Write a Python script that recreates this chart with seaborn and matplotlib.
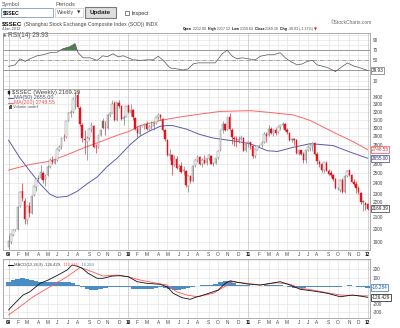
import numpy as np
import pandas as pd
import matplotlib
matplotlib.use("Agg")
import matplotlib.pyplot as plt
import matplotlib.transforms as mtransforms
from matplotlib.patches import Rectangle
from matplotlib.ticker import NullLocator
import seaborn as sns

# ------------------------------------------------------------------ data
first_week = "2009-01-05"
opens = [1860, 1900, 1950, 1991, 1995, 2190, 2330, 2240, 2070, 2190, 2130, 2290, 2370, 2450, 2450, 2500,
         2440, 2480, 2560, 2630, 2610, 2640, 2750, 2780, 2880, 2890, 3090, 3190, 3200, 3380, 3420, 3250,
         3040, 2870, 2840, 2880, 2990, 3020, 2780, 2780, 2910, 3080, 3000, 3000, 3160, 3190, 3320, 3100,
         3320, 3270, 3110, 3140, 3289, 3190, 3220, 3120, 2990, 2930, 3018, 3020, 3050, 2990, 3010, 3020,
         3060, 3130, 3160, 3110, 2970, 2860, 2680, 2690, 2580, 2650, 2550, 2570, 2520, 2520, 2380, 2470,
         2420, 2580, 2640, 2670, 2600, 2640, 2610, 2660, 2680, 2600, 2610, 2660, 2740, 2980, 3050, 2980,
         3140, 2980, 2880, 2870, 2850, 2870, 2880, 2740, 2820, 2830, 2790, 2680, 2750, 2790, 2800, 2830,
         2930, 2910, 2990, 2930, 2980, 2950, 3010, 3030, 3050, 2975, 2940, 2860, 2870, 2860, 2700, 2740,
         2700, 2640, 2740, 2770, 2790, 2820, 2700, 2620, 2590, 2530, 2610, 2520, 2500, 2480, 2440, 2360,
         2340, 2430, 2320, 2470, 2530, 2480, 2410, 2390, 2360, 2310, 2240, 2220, 2212]
highs = [1950, 1960, 2000, 1995, 2190, 2330, 2402, 2260, 2200, 2230, 2290, 2380, 2450, 2480, 2580, 2520,
         2490, 2580, 2660, 2680, 2650, 2760, 2800, 2890, 2930, 3090, 3200, 3220, 3400, 3460, 3478, 3270,
         3060, 2980, 2900, 3000, 3070, 3030, 2810, 2920, 2990, 3120, 3080, 3170, 3200, 3361, 3340, 3330,
         3360, 3290, 3160, 3280, 3295, 3306, 3240, 3130, 3020, 3030, 3025, 3060, 3080, 3050, 3080, 3070,
         3140, 3180, 3170, 3120, 2990, 2870, 2760, 2700, 2690, 2680, 2600, 2620, 2570, 2530, 2480, 2480,
         2580, 2650, 2690, 2680, 2660, 2690, 2660, 2700, 2690, 2620, 2660, 2740, 2980, 3080, 3060, 3140,
         3186, 3000, 2900, 2900, 2900, 2920, 2890, 2820, 2850, 2840, 2800, 2760, 2800, 2800, 2850, 2950,
         2950, 3040, 3010, 2990, 3000, 3010, 3040, 3067, 3055, 3000, 2950, 2880, 2880, 2870, 2750, 2750,
         2720, 2750, 2790, 2810, 2830, 2830, 2720, 2640, 2610, 2620, 2630, 2540, 2530, 2490, 2450, 2365,
         2440, 2450, 2480, 2536, 2535, 2490, 2440, 2420, 2380, 2320, 2250, 2230, 2217]
lows = [1844, 1880, 1940, 1985, 1990, 2180, 2240, 2040, 2037, 2100, 2120, 2280, 2330, 2420, 2440, 2400,
        2380, 2470, 2550, 2590, 2590, 2630, 2730, 2760, 2850, 2880, 3080, 3130, 3180, 3240, 3250, 3020,
        2840, 2700, 2639, 2860, 2950, 2770, 2712, 2770, 2900, 2990, 2920, 2990, 3130, 3180, 3090, 3090,
        3250, 3100, 3040, 3130, 3180, 3150, 3100, 2980, 2890, 2900, 3012, 2990, 2970, 2980, 2990, 2980,
        3050, 3100, 3100, 2960, 2850, 2680, 2640, 2480, 2570, 2540, 2520, 2500, 2480, 2370, 2320, 2400,
        2410, 2560, 2620, 2580, 2560, 2600, 2580, 2640, 2590, 2570, 2600, 2650, 2730, 2940, 2960, 2970,
        2970, 2810, 2790, 2780, 2820, 2860, 2730, 2720, 2780, 2760, 2660, 2661, 2740, 2780, 2780, 2820,
        2830, 2900, 2930, 2900, 2910, 2940, 2970, 3000, 2960, 2930, 2850, 2840, 2800, 2700, 2690, 2690,
        2610, 2610, 2730, 2730, 2730, 2690, 2600, 2560, 2510, 2500, 2520, 2480, 2460, 2420, 2350, 2340,
        2320, 2307, 2310, 2460, 2470, 2410, 2380, 2310, 2300, 2210, 2150, 2160, 2159]
closes = [1904, 1955, 1991, 1991, 2181, 2320, 2261, 2082, 2193, 2128, 2281, 2374, 2444, 2445, 2511, 2435,
          2477, 2560, 2635, 2611, 2632, 2754, 2775, 2881, 2880, 3088, 3189, 3190, 3372, 3412, 3260, 3046,
          2880, 2860, 2880, 2990, 3030, 2780, 2779, 2911, 2976, 3000, 2996, 3164, 3187, 3308, 3097, 3322,
          3275, 3113, 3140, 3277, 3196, 3224, 3128, 2990, 2940, 3018, 3018, 3051, 2990, 3014, 3019, 3057,
          3129, 3162, 3130, 2980, 2870, 2688, 2697, 2584, 2656, 2553, 2569, 2514, 2535, 2382, 2470, 2424,
          2573, 2637, 2672, 2598, 2642, 2610, 2655, 2688, 2598, 2610, 2656, 2738, 2971, 3052, 2979, 3129,
          2985, 2892, 2871, 2858, 2864, 2880, 2739, 2808, 2838, 2791, 2677, 2752, 2790, 2798, 2827, 2932,
          2900, 2990, 2937, 2977, 2943, 3006, 3030, 3050, 2980, 2950, 2863, 2871, 2858, 2709, 2743, 2705,
          2642, 2746, 2775, 2798, 2819, 2702, 2626, 2593, 2534, 2612, 2528, 2497, 2482, 2443, 2359, 2359,
          2431, 2317, 2473, 2528, 2481, 2417, 2395, 2360, 2315, 2224, 2224, 2199, 2169.39]

ma50_idx = [0, 5, 9.3, 13.7, 18, 21, 25.4, 29.8, 34.1, 38.5, 42.8, 47.2, 52.8, 57.2, 61.5, 65.9, 68.7,
            71.3, 77.4, 83, 88.9, 95, 100.7, 105, 112.4, 116.8, 123.7, 131, 135.4, 141, 148.5, 156]
ma50_vals = [2857, 2657, 2522, 2396, 2298, 2270, 2278, 2325, 2396, 2463, 2568, 2657, 2804, 2904, 2965,
             3019, 3028, 3028, 2984, 2922, 2880, 2857, 2835, 2815, 2737, 2729, 2775, 2815, 2807, 2794,
             2721, 2655.00]
ma200_idx = [0, 9.3, 18, 25.4, 32.4, 39.8, 47.2, 52.8, 57.2, 65.9, 74.6, 83, 92, 105, 112.4, 123.7,
             131, 141, 149.8, 156]
ma200_vals = [2532, 2590, 2624, 2693, 2765, 2837, 2912, 2963, 3028, 3091, 3135, 3170, 3205, 3215, 3195,
              3160, 3091, 2950, 2837, 2748.55]

rsi_idx = [0, 2.8, 5, 7.2, 9.3, 12.4, 15, 18, 21, 23.7, 26.7, 28.9, 30.2, 32.4, 35.4, 38.5, 41, 42.8,
           45.4, 47.6, 49.8, 52, 54.1, 57.2, 60.2, 62.8, 65, 67.2, 68.9, 70.2, 73.3, 75.9, 78, 80.2, 82.4,
           86.3, 89.8, 92.8, 95, 97.2, 99.3, 101.5, 104.1, 107.2, 109.3, 112.4, 115, 118, 120.2, 122.4,
           125.4, 127.6, 129.8, 132, 134.1, 136.7, 138.9, 142, 144.1, 147.2, 149.8, 152.8, 156]
rsi_vals = [38, 41, 53, 48, 53, 59, 61, 65, 66, 73, 77, 83, 65, 55, 55, 50, 59, 57, 63, 57, 59, 55, 51,
            50, 51, 51, 58, 50, 41, 35, 33, 31, 33, 43, 45, 45, 45, 63, 70, 58, 53, 55, 53, 51, 58, 61,
            61, 65, 55, 48, 41, 43, 48, 50, 41, 38, 35, 28, 35, 45, 39, 35, 29.93]

macd_idx = [0, 2, 6.3, 9.3, 13.7, 17.2, 21.5, 25.4, 27.6, 30, 32, 34.6, 38.5, 41, 45, 48.5, 52, 55.9,
            60.2, 65.9, 68.9, 71.5, 75.4, 78.9, 82, 83.3, 87.6, 91.1, 94.1, 96.3, 99.3, 104.1, 109.3,
            113.7, 118, 121.5, 126.7, 132.4, 138.5, 144.1, 149.3, 152.8, 156]
macd_vals = [-272, -215, -100, -62, 34, 72, 130, 187, 245, 230, 207, 149, 92, 92, 118, 122, 110, 53, 34,
             23, -5, -80, -131, -149, -120, -112, -74, -43, 34, 64, 46, 26, 15, 34, 53, 23, -34, -54,
             -80, -120, -100, -112, -126.429]
signal_idx = [0, 5, 10.7, 18, 25.4, 31.1, 36.3, 41, 47.2, 52, 57.2, 64.6, 68.9, 73, 77.4, 82, 83.3,
              88.9, 95, 97.6, 103.7, 109.3, 116.7, 122.4, 126.7, 132.4, 138.5, 144.1, 152.8, 156]
signal_vals = [-330, -234, -120, -5, 110, 218, 168, 118, 130, 110, 72, 34, 15, -62, -100, -120, -112,
               -80, 15, 53, 34, 15, 41, 23, -23, -43, -74, -100, -108, -110.145]
hist_idx = list(range(0, 157, 2))
hist_vals = [55, 70, 85, 95, 80, 70, 60, 55, 55, 55, 55, 50, 50, 45, 40, 20,
             -10, -30, -40, -45, -35, -20, -10, -8, -5, -5, -10, -25, -35, -35, -30, -25, -15,
             -10, -20, -30, -40, -40, -35, -20, -5, 5, 15, 20, 20, 25, 45, 65, 60, 40,
             20, 15, 10, 5, 5, 5, 10, 15, 15, 10, 0, -10, -20, -20, -15, -10, -10, -8, -6, -5, -8,
             -10, -5, 5, 10, 5, -5, -10, -16.284]

price_ticks = [1900, 2000, 2100, 2200, 2300, 2400, 2500, 2600, 2700, 2800, 2900, 3000, 3100, 3200,
               3300, 3400]
rsi_ticks = [10, 30, 50, 70, 90]
macd_ticks = [-300, -200, -100, 0, 100, 200]
month_letters = "JFMAMJJASOND"

# ------------------------------------------------------------------ style
sns.set_style("white")
plt.rcParams['font.family'] = ['Liberation Sans', 'DejaVu Sans']

W, H = 400, 328
fig = plt.figure(figsize=(W / 100, H / 100), dpi=100)
fig.patch.set_facecolor('white')


def px_axes(top, bottom, left=3, right=370):
    return fig.add_axes([left / W, 1 - bottom / H, (right - left) / W, (bottom - top) / H])


ax_rsi = px_axes(33, 89)
ax_main = px_axes(89, 250)
ax_macd = px_axes(259, 318)

RED = '#e8101c'
UPC = '#707070'
BLUE_MA = '#5c5cb0'
RED_MA = '#ff6464'
HIST = '#4a8cc4'
GRID = '#e4e4e4'

n = len(closes)
xs = np.arange(n)
dates = pd.date_range(first_week, periods=n, freq='7D')
month_pos = [i for i in range(n) if i == 0 or dates[i].month != dates[i - 1].month]
month_lab = [f"{dates[i].year % 100:02d}" if dates[i].month == 1 else month_letters[dates[i].month - 1]
             for i in month_pos]
year_pos = [i for i in month_pos if dates[i].month == 1]

# values hidden behind the right-hand value boxes
hidden_price = {2700}
hidden_rsi = {30}
hidden_macd = {0, -100}

# ------------------------------------------------------------------ main panel
o = np.array(opens, float)
h = np.array(highs, float)
l = np.array(lows, float)
c = np.array(closes, float)
prev = np.concatenate([[o[0]], c[:-1]])
edge = np.where(c < prev, RED, UPC)
face = np.where(c < o, edge, 'white')

sns.lineplot(x=ma200_idx, y=ma200_vals, ax=ax_main, color=RED_MA, lw=0.7, zorder=2)
sns.lineplot(x=ma50_idx, y=ma50_vals, ax=ax_main, color=BLUE_MA, lw=0.7, zorder=2)
ax_main.vlines(xs, l, h, colors=edge, lw=0.45, zorder=3)
ax_main.bar(xs, np.maximum(np.abs(c - o), 2.0), bottom=np.minimum(o, c), width=0.62,
            color=face, edgecolor=edge, linewidth=0.3, zorder=4)
ax_main.set_yscale('log')
ax_main.set_ylim(1837, 3507)
ax_main.set_yticks(price_ticks)
ax_main.set_yticklabels(['' if v in hidden_price else str(v) for v in price_ticks])
ax_main.yaxis.set_minor_locator(NullLocator())
for v in price_ticks:
    ax_main.axhline(v, color=GRID, lw=0.5, zorder=0)

# ------------------------------------------------------------------ RSI panel
rx = np.array(rsi_idx, float)
rv = np.array(rsi_vals, float)
ax_rsi.fill_between(rx, rv, 70, where=rv >= 70, interpolate=True, color='#4f7f4f', lw=0, zorder=2)
ax_rsi.fill_between(rx, rv, 30, where=rv <= 30, interpolate=True, color=RED, lw=0, zorder=2)
sns.lineplot(x=rsi_idx, y=rsi_vals, ax=ax_rsi, color='#555555', lw=0.5, zorder=3)
for v in range(0, 101, 10):
    ax_rsi.axhline(v, color=GRID, lw=0.5, zorder=0)
ax_rsi.axhline(70, color='#8a8a8a', lw=0.6, zorder=1)
ax_rsi.axhline(30, color='#8a8a8a', lw=0.6, zorder=1)
ax_rsi.axhline(50, color='#8a8a8a', lw=0.5, ls='-.', zorder=1)
ax_rsi.set_ylim(-6.6, 104)
ax_rsi.set_yticks(rsi_ticks)
ax_rsi.set_yticklabels(['' if v in hidden_rsi else str(v) for v in rsi_ticks])

# ------------------------------------------------------------------ MACD panel
ax_macd.bar(hist_idx, hist_vals, width=2.0, color=HIST, lw=0, zorder=2)
sns.lineplot(x=signal_idx, y=signal_vals, ax=ax_macd, color='#ff5555', lw=0.6, zorder=3)
sns.lineplot(x=macd_idx, y=macd_vals, ax=ax_macd, color='#111111', lw=0.6, zorder=4)
for v in range(-300, 301, 100):
    ax_macd.axhline(v, color=GRID, lw=0.5, zorder=0)
ax_macd.set_ylim(-364, 314)
ax_macd.set_yticks(macd_ticks)
ax_macd.set_yticklabels(['' if v in hidden_macd else str(v) for v in macd_ticks])

# ------------------------------------------------------------------ common axes styling
for ax in (ax_rsi, ax_main, ax_macd):
    ax.set_xlim(-2.4, n)
    ax.set_xticks(month_pos)
    ax.set_xlabel('')
    ax.set_ylabel('')
    ax.grid(False)
    for p in month_pos:
        ax.axvline(p, color='#c2c2c2' if p in year_pos else GRID, lw=0.5, zorder=0)
    for s in ax.spines.values():
        s.set_color('#a0a0a0')
        s.set_linewidth(0.6)
    ax.yaxis.tick_right()
    ax.tick_params(axis='y', length=0, pad=2.2, labelsize=3.4, labelcolor='#444444')
    ax.tick_params(axis='x', length=0, pad=1.3, labelsize=3.4, labelcolor='#444444')
for ax in (ax_main, ax_macd):
    ax.set_xticklabels(month_lab)
    for t in ax.get_xticklabels():
        if t.get_text().isdigit():
            t.set_fontweight('bold')
            t.set_color('#111111')
ax_rsi.set_xticklabels([])
# the 2200 label sits just above the last-close box
for t, v in zip(ax_main.get_yticklabels(), price_ticks):
    if v == 2200:
        t.set_va('bottom')


def vbox(ax, v, s, ec, tc='#222222'):
    tr = mtransforms.blended_transform_factory(ax.transAxes, ax.transData)
    ax.text(1.004, v, s, transform=tr, fontsize=3.3, color=tc, va='center', ha='left',
            bbox=dict(boxstyle='square,pad=0.18', fc='white', ec=ec, lw=0.6), clip_on=False, zorder=10)


vbox(ax_main, ma200_vals[-1], f"{ma200_vals[-1]:.2f}", RED_MA, '#cc3333')
vbox(ax_main, ma50_vals[-1], f"{ma50_vals[-1]:.2f}", BLUE_MA, '#333366')
vbox(ax_main, closes[-1], f"{closes[-1]:.2f}", '#555555')
vbox(ax_rsi, rsi_vals[-1], f"{rsi_vals[-1]:.2f}", '#888888')
vbox(ax_macd, hist_vals[-1], f"{hist_vals[-1]:.3f}", HIST, '#225588')
vbox(ax_macd, macd_vals[-1], f"{macd_vals[-1]:.3f}", '#333333')

# ------------------------------------------------------------------ header / legends overlay
hd = fig.add_axes([0, 0, 1, 1])
hd.set_xlim(0, W)
hd.set_ylim(H, 0)
hd.axis('off')
hd.patch.set_visible(False)
renderer = fig.canvas.get_renderer()


def seq_fit(x0, x1, y, parts, base=4.0):
    texts = [hd.text(0, y, s, fontsize=base, fontweight=w, color=col, va='center', ha='left')
             for s, w, col in parts]
    widths = [t.get_window_extent(renderer).width for t in texts]
    scale = (x1 - x0) / sum(widths)
    x = x0
    for t in texts:
        t.set_fontsize(base * scale)
        t.set_x(x)
        x += t.get_window_extent(renderer).width
    return x


# form controls
seq_fit(2, 20, 4.5, [("Symbol", 'normal', '#555555')])
hd.add_patch(Rectangle((1, 8), 52, 9, fc='white', ec='#7f9db9', lw=0.6))
seq_fit(3, 20, 12.6, [("$SSEC", 'bold', '#111111')])
seq_fit(55, 75, 4.5, [("Periods", 'normal', '#555555')])
hd.add_patch(Rectangle((55, 8), 28, 9, fc='white', ec='#c8c8c8', lw=0.5))
seq_fit(57, 74, 12.6, [("Weekly", 'normal', '#555555')])
hd.text(78.5, 12.6, '▼', fontsize=3.2, color='#333333', ha='center', va='center', family='DejaVu Sans')
hd.add_patch(Rectangle((85, 7), 31, 11, fc='#dedede', ec='#7a7a7a', lw=0.8))
seq_fit(90, 111, 12.6, [("Update", 'bold', '#222222')])
hd.add_patch(Rectangle((124.5, 10.5), 4.5, 4.5, fc='white', ec='#555555', lw=0.5))
seq_fit(131, 148, 13, [("Inspect", 'normal', '#333333')])

# title lines
seq_fit(2, 22, 24.3, [("$SSEC", 'bold', '#111111')])
seq_fit(24, 157, 24.5, [("(Shanghai Stock Exchange Composite Index (SOD)) INDX", 'normal', '#444444')])
seq_fit(2, 21, 29.3, [("4-Jan-2012", 'normal', '#444444')])
seq_fit(331, 371, 23, [("©StockCharts.com", 'normal', '#666666')])
end = seq_fit(183, 311, 29.3, [("Open", 'bold', '#111111'), (" 2212.00", 'normal', '#444444'),
                               ("  High", 'bold', '#111111'), (" 2217.52", 'normal', '#444444'),
                               ("  Low", 'bold', '#111111'), (" 2159.64", 'normal', '#444444'),
                               ("  Close", 'bold', '#111111'), (" 2169.39", 'normal', '#444444'),
                               ("  Chg", 'bold', '#111111'), (" -30.03 (-1.37%)", 'normal', '#444444')])
hd.text(end + 2.5, 29.3, '▼', fontsize=2.8, color=RED, ha='center', va='center', family='DejaVu Sans')

# RSI legend
hd.text(5, 35.6, '▲', fontsize=3.2, color='#4f7f4f', ha='center', va='center', family='DejaVu Sans')
seq_fit(7.5, 48, 35.6, [(f"RSI(14) {rsi_vals[-1]:.2f}", 'normal', '#555555')])

# main legend
hd.plot([9, 9], [89.8, 94.6], color='#222222', lw=0.4)
hd.add_patch(Rectangle((8, 90.6), 2, 3.2, fc='#222222', ec='#222222', lw=0.3))
seq_fit(12, 79, 92.3, [(f"$SSEC (Weekly) {closes[-1]:.2f}", 'normal', '#444444')])
hd.plot([8, 13], [97.6, 97.6], color=BLUE_MA, lw=0.8)
seq_fit(14, 53, 97.6, [(f"MA(50) {ma50_vals[-1]:.2f}", 'normal', '#555577')])
hd.plot([8, 13], [102.6, 102.6], color=RED_MA, lw=0.8)
seq_fit(14, 55, 102.6, [(f"MA(200) {ma200_vals[-1]:.2f}", 'normal', '#dd5555')])
hd.add_patch(Rectangle((8.5, 105.8), 1.2, 2.8, fc='#555555', lw=0))
hd.add_patch(Rectangle((10.3, 104.8), 1.2, 3.8, fc='#555555', lw=0))
seq_fit(13, 38, 107.2, [("Volume undef", 'normal', '#555555')])

# MACD legend
hd.plot([8, 13], [264.6, 264.6], color='#111111', lw=0.8)
seq_fit(14, 95, 264.6, [(f"MACD(12,26,9) {macd_vals[-1]:.3f},", 'normal', '#444444'),
                        (f" {signal_vals[-1]:.3f},", 'normal', '#ff5555'),
                        (f" {hist_vals[-1]:.3f}", 'normal', HIST)])

fig.savefig("out.png", dpi=100)
